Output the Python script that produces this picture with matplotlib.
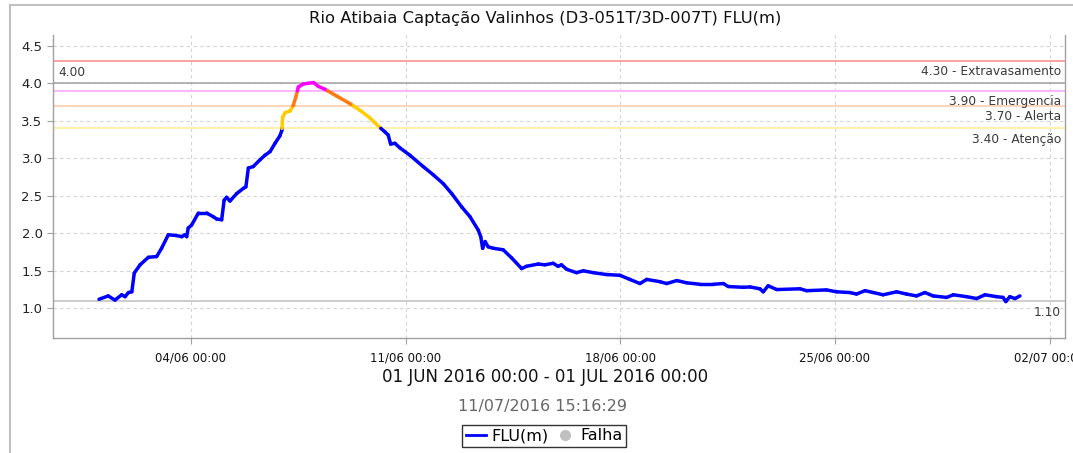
import numpy as np
import pandas as pd
import matplotlib
matplotlib.use("Agg")
import matplotlib.pyplot as plt
import matplotlib.dates as mdates
from matplotlib.collections import LineCollection
from matplotlib.lines import Line2D

# ---------------- data ----------------
titulo = "Rio Atibaia Captação Valinhos (D3-051T/3D-007T) FLU(m)"
periodo = "01 JUN 2016 00:00 - 01 JUL 2016 00:00"
gerado = "11/07/2016 15:16:29"
inicio = "2016-06-01 00:00"
fim = "2016-07-01 00:00"
ticks_x = ["2016-06-04", "2016-06-11", "2016-06-18", "2016-06-25", "2016-07-02"]

# days since 01/06/2016 00:00
dias = [0.00, 0.30, 0.52, 0.74, 0.85, 0.96, 1.07, 1.15, 1.34, 1.61, 1.88, 2.04,
        2.26, 2.53, 2.70, 2.80, 2.86, 2.91, 3.02, 3.24, 3.51, 3.73, 3.84, 4.00,
        4.08, 4.16, 4.27, 4.49, 4.71, 4.79, 4.87, 5.03, 5.25, 5.41, 5.58, 5.74,
        5.90, 5.96, 5.99, 6.07, 6.23, 6.34, 6.42, 6.50, 6.66, 6.82, 6.99, 7.15,
        7.37, 7.75, 8.18, 8.51, 8.83, 9.16, 9.33, 9.43, 9.51, 9.65, 9.81, 10.14,
        10.57, 10.90, 11.23, 11.50, 11.83, 12.10, 12.37, 12.45, 12.51, 12.59,
        12.69, 12.86, 13.18, 13.46, 13.78, 13.94, 14.32, 14.54, 14.81, 14.97,
        15.08, 15.25, 15.57, 15.79, 16.12, 16.55, 16.99, 17.31, 17.64, 17.86,
        18.29, 18.51, 18.84, 19.16, 19.60, 20.03, 20.36, 20.52, 21.01, 21.23,
        21.55, 21.66, 21.82, 22.10, 22.86, 23.07, 23.72, 24.05, 24.49, 24.70,
        24.98, 25.25, 25.57, 26.01, 26.33, 26.66, 26.93, 27.20, 27.64, 27.86,
        28.29, 28.62, 28.89, 29.27, 29.48, 29.57, 29.70, 29.87, 30.03]
flu = [1.12, 1.165, 1.11, 1.18, 1.155, 1.21, 1.22, 1.47, 1.58, 1.68, 1.69, 1.80,
       1.98, 1.97, 1.955, 1.98, 1.955, 2.07, 2.11, 2.27, 2.27, 2.22, 2.19, 2.18,
       2.44, 2.48, 2.43, 2.53, 2.60, 2.62, 2.87, 2.89, 2.98, 3.04, 3.09, 3.20,
       3.30, 3.37, 3.55, 3.61, 3.63, 3.71, 3.82, 3.95, 3.99, 4.00, 4.01, 3.96,
       3.92, 3.83, 3.73, 3.64, 3.54, 3.41, 3.35, 3.31, 3.19, 3.20, 3.14, 3.04,
       2.89, 2.78, 2.66, 2.53, 2.35, 2.22, 2.04, 1.95, 1.80, 1.89,
       1.82, 1.80, 1.78, 1.67, 1.53, 1.56, 1.59, 1.58, 1.60, 1.56,
       1.58, 1.52, 1.475, 1.50, 1.475, 1.45, 1.44, 1.385, 1.33, 1.385,
       1.355, 1.33, 1.37, 1.34, 1.32, 1.32, 1.33, 1.29, 1.28, 1.285,
       1.26, 1.22, 1.30, 1.25, 1.26, 1.235, 1.245, 1.22, 1.21, 1.19,
       1.235, 1.21, 1.18, 1.22, 1.19, 1.165, 1.21, 1.165, 1.145, 1.18,
       1.155, 1.13, 1.18, 1.155, 1.145, 1.09, 1.155, 1.13, 1.165]

# threshold levels
niveis = [4.30, 3.90, 3.70, 3.40]
rotulos = ["4.30 - Extravasamento", "3.90 - Emergencia", "3.70 - Alerta", "3.40 - Atenção"]
cores_nivel = ["#ff9a9a", "#ffb0ff", "#ffd2b0", "#fff0a0"]
ref_sup = 4.00
ref_inf = 1.10

# colours of the series by band
cor_normal = "#0000ff"
cor_atencao = "#ffcc00"
cor_alerta = "#ff7a10"
cor_emerg = "#ff00ff"

# ---------------- figure ----------------
plt.rcParams['font.family'] = ['DejaVu Sans']
fig = plt.figure(figsize=(10.73, 4.53), dpi=100)
ax = fig.add_axes([53/1073, 1-338/453, (1065-53)/1073, (338-35)/453])

t0 = pd.Timestamp(inicio)
tempos = t0 + pd.to_timedelta(np.array(dias), unit="D")
x = mdates.date2num(tempos.to_pydatetime())
y = np.array(flu)

# split segments at thresholds so colour changes exactly at levels
bordas = [3.40, 3.70, 3.90]
def cor_de(v):
    if v >= 3.90:
        return cor_emerg
    if v >= 3.70:
        return cor_alerta
    if v >= 3.40:
        return cor_atencao
    return cor_normal

segs, cols = [], []
for i in range(len(x) - 1):
    xa, ya, xb, yb = x[i], y[i], x[i+1], y[i+1]
    ts = [0.0]
    for b in bordas:
        if (ya - b) * (yb - b) < 0:
            ts.append((b - ya) / (yb - ya))
    ts.append(1.0)
    ts = sorted(ts)
    for k in range(len(ts) - 1):
        p0 = (xa + (xb - xa) * ts[k], ya + (yb - ya) * ts[k])
        p1 = (xa + (xb - xa) * ts[k+1], ya + (yb - ya) * ts[k+1])
        segs.append([p0, p1])
        cols.append(cor_de((p0[1] + p1[1]) / 2))

lc = LineCollection(segs, colors=cols, linewidths=2.5, capstyle="round",
                    joinstyle="round", zorder=5)
ax.add_collection(lc)

# threshold lines
for nv, cr in zip(niveis, cores_nivel):
    ax.axhline(nv, color=cr, lw=1.3, zorder=2)
ax.axhline(ref_sup, color="#a8a8a8", lw=1.2, zorder=2)
ax.axhline(ref_inf, color="#c8c8c8", lw=1.3, zorder=2)

lbl_kw = dict(fontsize=8.8, color="#3a3a3a", xycoords=("axes fraction", "data"),
              textcoords="offset pixels")
for nv, tx in zip(niveis, rotulos):
    ax.annotate(tx, xy=(1, nv), xytext=(-4, -11), ha="right", va="center", **lbl_kw)
ax.annotate(f"{ref_sup:.2f}", xy=(0, ref_sup), xytext=(5, 11), ha="left", va="center", **lbl_kw)
ax.annotate(f"{ref_inf:.2f}", xy=(1, ref_inf), xytext=(-4, -12), ha="right", va="center", **lbl_kw)

# axes
t_fim = pd.Timestamp(fim)
pad = pd.Timedelta(days=1.5)
ax.set_xlim(mdates.date2num((t0 - pad).to_pydatetime()), mdates.date2num((t_fim + pad).to_pydatetime()))
ax.set_ylim(0.604, 4.644)
ax.set_yticks(np.arange(1.0, 4.51, 0.5))
ax.yaxis.set_major_formatter(plt.FormatStrFormatter("%.1f"))
ax.set_xticks(mdates.date2num(pd.to_datetime(ticks_x).to_pydatetime()))
ax.xaxis.set_major_formatter(mdates.DateFormatter("%d/%m %H:%M"))

ax.grid(True, color="#d4d4d4", linestyle=(0, (3, 3)), lw=0.8, zorder=0)
ax.set_axisbelow(True)
for s in ["left", "bottom", "right"]:
    ax.spines[s].set_color("#a0a0a0")
    ax.spines[s].set_linewidth(1.0)
ax.spines["top"].set_visible(False)
ax.tick_params(axis="y", labelsize=9.5, colors="#a0a0a0", labelcolor="#222222", length=4, width=0.8)
ax.tick_params(axis="x", labelsize=8.5, colors="#a0a0a0", labelcolor="#111111", length=4, width=0.8, pad=6)

# texts
fig.text(0.508, 1-18/453, titulo, ha="center", va="center", fontsize=11.8, color="#111111")
fig.text(0.508, 1-377/453, periodo, ha="center", va="center", fontsize=12, color="#111111")
fig.text(0.506, 1-407/453, gerado, ha="center", va="center", fontsize=11.5, color="#666666")

handles = [Line2D([], [], color=cor_normal, lw=2),
           Line2D([], [], color="#c0c0c0", marker="o", lw=0, markersize=7)]
leg = fig.legend(handles, ["FLU(m)", "Falha"], loc="center", bbox_to_anchor=(0.507, 1-436/453),
                 ncol=2, fontsize=11.5, frameon=True, fancybox=False, handlelength=1.3,
                 handletextpad=0.3, columnspacing=0.4, borderpad=0.25, borderaxespad=0)
leg.get_frame().set_edgecolor("#000000")
leg.get_frame().set_linewidth(1.0)

# outer frame
fig.add_artist(Line2D([10/1073, 10/1073], [0, 1-5/453], transform=fig.transFigure, color="#c0c0c0", lw=1.5))
fig.add_artist(Line2D([10/1073, 1], [1-5/453, 1-5/453], transform=fig.transFigure, color="#c0c0c0", lw=1.5))

fig.savefig("out.png", dpi=100)
